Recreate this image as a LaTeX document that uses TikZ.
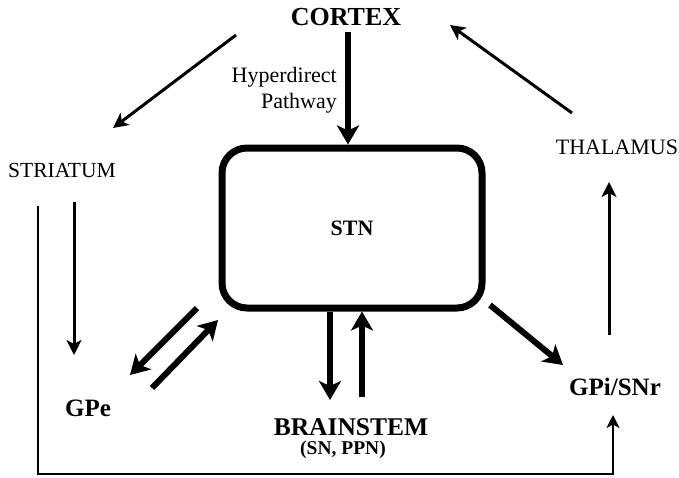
\documentclass[tikz,border=0pt]{standalone}
\usepackage{fontspec}
\setmainfont{Liberation Serif}
\usetikzlibrary{arrows.meta}
\begin{document}
\begin{tikzpicture}[x=1pt,y=-1pt,
  lbl/.style={inner sep=0pt, font=\fontsize{21.5}{26}\selectfont},
  blbl/.style={inner sep=0pt, font=\bfseries\fontsize{25}{28}\selectfont},
  boxstyle/.style={draw, line width=7pt, rounded corners=25pt, minimum width=260pt, minimum height=160pt, inner sep=0pt, font=\bfseries\fontsize{22}{26}\selectfont},
  thickarrow/.style={line width=6pt, -{Stealth[length=19pt,width=22pt,inset=5pt]}},
  thinarrow/.style={line width=3pt, -{Stealth[length=15pt,width=15pt,inset=4pt]}},
  plainline/.style={line width=2.6pt, -{Stealth[length=13pt,width=13pt,inset=3.5pt]}}]
\useasboundingbox (0,0) rectangle (679,477);
% nodes
\node[blbl, font=\bfseries\fontsize{26}{28}\selectfont] (cortex) at (346,17) {CORTEX};
\node[lbl, font=\fontsize{22}{26}\selectfont, align=right, anchor=east] (hyper) at (337,90) {Hyperdirect\\Pathway};
\node[lbl] (striatum) at (62,170) {STRIATUM};
\node[lbl, font=\fontsize{22}{26}\selectfont] (thalamus) at (617,147) {THALAMUS};
\node[boxstyle] (stn) at (352,228) {STN};
\node[blbl, font=\bfseries\fontsize{25.5}{28}\selectfont] (brainstem) at (351,427) {BRAINSTEM};
\node[blbl, font=\bfseries\fontsize{19.5}{22}\selectfont] (bsub) at (343,449.5) {(SN, PPN)};
\node[blbl] (gpe) at (88,408) {GPe};
\node[blbl] (gpi) at (615,387) {GPi/SNr};
% thick connectors
\draw[thickarrow] ([shift={(2,15)}]cortex.center) -- ([shift={(-4,0)}]stn.north);
\draw[thickarrow] ([shift={(-155,80)}]stn.center) -- ([shift={(42,-33)}]gpe.center);
\draw[thickarrow] ([shift={(64,-20)}]gpe.center) -- ([shift={(-134,92)}]stn.center);
\draw[thickarrow] ([shift={(-22,0)}]stn.south) -- ([shift={(-21,-27)}]brainstem.center);
\draw[thickarrow] ([shift={(11,-30)}]brainstem.center) -- ([shift={(10,0)}]stn.south);
\draw[thickarrow] ([shift={(138,77)}]stn.center) -- ([shift={(-52,-22)}]gpi.center);
% thin connectors
\draw[thinarrow] ([shift={(-110,18)}]cortex.center) -- ([shift={(51,-42)}]striatum.center);
\draw[thinarrow] ([shift={(-45,-34)}]thalamus.center) -- ([shift={(104,8)}]cortex.center);
\draw[thinarrow] ([shift={(-6,-52)}]gpi.center) -- ([shift={(-8,35)}]thalamus.center);
\draw[thinarrow] ([shift={(12,32)}]striatum.center) -- ([shift={(-14,-53)}]gpe.center);
\draw[plainline] ([shift={(-24,36)}]striatum.center) |- ([shift={(-2,87)}]gpi.center) -- ([shift={(-2,28)}]gpi.center);
\end{tikzpicture}
\end{document}
